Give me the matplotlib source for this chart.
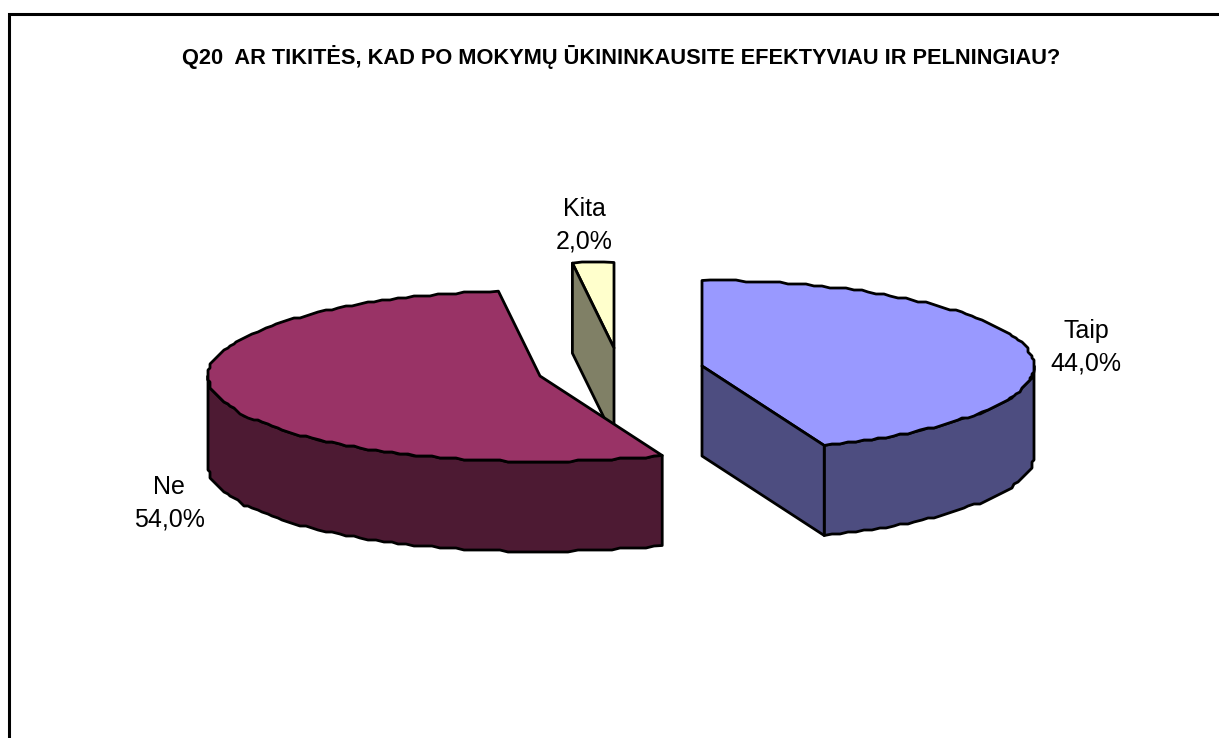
import numpy as np
import matplotlib
matplotlib.use("Agg")
import matplotlib.pyplot as plt
from matplotlib.patches import Polygon

plt.rcParams['font.family'] = ['Liberation Sans', 'DejaVu Sans']

# chart data
categories = ["Taip", "Ne", "Kita"]
values = [44.0, 54.0, 2.0]
value_labels = ["44,0%", "54,0%", "2,0%"]
title = "Q20  AR TIKITĖS, KAD PO MOKYMŲ ŪKININKAUSITE EFEKTYVIAU IR PELNINGIAU?"

top_colors = ["#9999FF", "#993366", "#FFFFCC"]
side_colors = ["#4D4D80", "#4D1A33", "#808066"]

# apex of each exploded slice, picture pixels
centers = [(702, 366), (540, 376), (614, 348)]
label_pos = [(1086, 347), (169, 503), (584, 225)]
rx, ry, depth = 332, 85.5, 90

fig = plt.figure(figsize=(12.19, 7.38), dpi=100)
ax = fig.add_axes([0, 0, 1, 1])
ax.set_xlim(0, 1219)
ax.set_ylim(738, 0)
ax.axis("off")

# outer frame, runs off the image at the right and the bottom
ax.plot([9, 9, 1219], [738, 14, 14], color="black", lw=2.2, solid_joinstyle="miter")


def rim(cx, cy, a0, a1):
    # angles clockwise from 12 o'clock, rounding gives the stepped edge
    n = max(2, int(abs(a1 - a0) / 1.5) + 1)
    t = np.radians(np.linspace(a0, a1, n))
    x = cx + rx * np.sin(t)
    y = cy - ry * np.cos(t)
    pts = np.column_stack([x, y])
    pts[1:-1] = np.round(pts[1:-1] / 2) * 2
    return pts


def face(pts, color, z):
    ax.add_patch(Polygon(pts, closed=True, fc=color, ec="black", lw=2.0, joinstyle="round", zorder=z))


fracs = np.array(values) / sum(values) * 360
starts = np.concatenate([[0], np.cumsum(fracs)[:-1]])
draw_order = [2, 1, 0]

for z, i in enumerate(draw_order):
    cx, cy = centers[i]
    a0, a1 = starts[i], starts[i] + fracs[i]
    top = rim(cx, cy, a0, a1)
    drop = np.array([0, depth])

    # wall along the front half of the rim
    w0, w1 = max(a0, 90), min(a1, 270)
    if w1 > w0:
        edge = rim(cx, cy, w0, w1)
        face(np.vstack([edge, (edge + drop)[::-1]]), side_colors[i], 3 * z + 1)

    # cut faces that look toward the viewer
    if a0 == 0:
        c = top[-1]
        face([(cx, cy), c, c + drop, (cx, cy + depth)], side_colors[i], 3 * z + 2)
    if a1 > 350 and a0 > 270:
        c = top[0]
        face([(cx, cy), c, c + drop, (cx, cy + depth)], side_colors[i], 3 * z + 2)

    face(np.vstack([[(cx, cy)], top]), top_colors[i], 3 * z + 1.5)

# labels
for name, val, (lx, ly) in zip(categories, value_labels, label_pos):
    ax.text(lx, ly, name + "\n" + val, ha="center", va="center", fontsize=18,
            linespacing=1.45, color="black", zorder=20)

ax.text(621, 57, title, ha="center", va="center", fontsize=15.7, fontweight="bold", color="black")

fig.savefig("out.png", dpi=100)
